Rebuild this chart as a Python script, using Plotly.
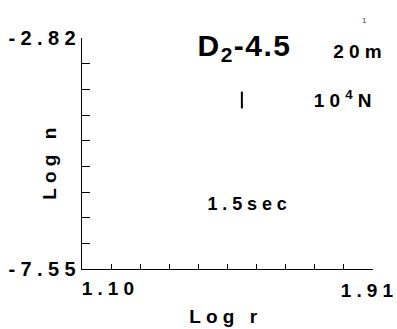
import plotly.graph_objects as go
import numpy as np

# Axis extents (log units) and tick labels
x_range = [1.10, 1.91]
y_range = [-7.55, -2.82]
x_tick_labels = ["1.10", "1.91"]
y_tick_labels = ["-7.55", "-2.82"]
n_xticks = 11
n_yticks = 10

# Single plotted mark
pt_x = [1.545]
pt_y = [-4.09]

# Panel annotations
title_text = "D<sub>2</sub>-4.5"
dist_text = "20m"
force_text = "10<sup>4</sup>N"
time_text = "1.5sec"

FONT = "Liberation Sans"
SPACING_EM = 0.27   # letter spacing of the small labels
W, H = 397, 329
ML, MR, MT, MB = 82, 24, 38, 60
PW, PH = W - ML - MR, H - MT - MB


def px(x):
    return (x - ML) / PW


def py(y):
    return (H - MB - y) / PH


fig = go.Figure()
fig.add_trace(go.Scatter(
    x=pt_x, y=pt_y, mode="markers",
    marker=dict(symbol="line-ns", size=12, line=dict(width=2, color="black")),
    showlegend=False, hoverinfo="skip",
))

xt = np.linspace(x_range[0], x_range[1], n_xticks)
yt = np.linspace(y_range[0], y_range[1], n_yticks)

fig.update_layout(
    width=W, height=H,
    margin=dict(l=ML, r=MR, t=MT, b=MB),
    plot_bgcolor="white", paper_bgcolor="white",
    font=dict(family=FONT, size=19, color="black", weight="bold"),
    xaxis=dict(
        range=x_range, tickvals=list(xt), showticklabels=False,
        ticks="inside", ticklen=5, tickwidth=1, tickcolor="black",
        showline=True, linecolor="black", linewidth=1.4,
        showgrid=False, zeroline=False, fixedrange=True,
    ),
    yaxis=dict(
        range=y_range, tickvals=list(yt), showticklabels=False,
        ticks="inside", ticklen=8, tickwidth=1, tickcolor="black",
        showline=True, linecolor="black", linewidth=1.4,
        showgrid=False, zeroline=False, fixedrange=True,
    ),
)


def label(text, x, y, size, angle=0):
    # spaced text drifts left by half a gap; shift it back
    s = SPACING_EM * size / 2 if size <= 22 else 0.025 * size
    xs, ys = (s, 0) if angle == 0 else (0, s)
    fig.add_annotation(x=px(x), y=py(y), xref="paper", yref="paper",
                       text=text, showarrow=False, textangle=angle,
                       xanchor="center", yanchor="middle",
                       xshift=xs, yshift=ys, font=dict(size=size))


# tick labels
label(y_tick_labels[1], 42, 38, 20)
label(y_tick_labels[0], 42, 269, 20)
label(x_tick_labels[0], 108, 288, 19)
label(x_tick_labels[1], 367, 290, 19)

# axis titles
label("Log r", 223.5, 316.5, 19)
label("Log n", 49.5, 164, 19, angle=-90)

# panel labels
label(title_text, 243.5, 48, 30)
label(dist_text, 357.5, 51.5, 19)
label(force_text, 342, 99, 19)
label(time_text, 247, 204, 18)
fig.add_annotation(x=px(369), y=py(14), xref="paper", yref="paper",
                   text="1", showarrow=False,
                   font=dict(size=8, weight="normal", color="#444"))

# wide letter spacing for the small labels, tight for the large title
post = (
    "document.querySelectorAll('.main-svg text').forEach(function(t){"
    "var fs=parseFloat(t.style.fontSize)||16;"
    "t.style.letterSpacing=(fs>22)?'0.05em':(fs<10?'0':'%sem');});" % SPACING_EM
)
fig.write_html("out.html", post_script=post)
